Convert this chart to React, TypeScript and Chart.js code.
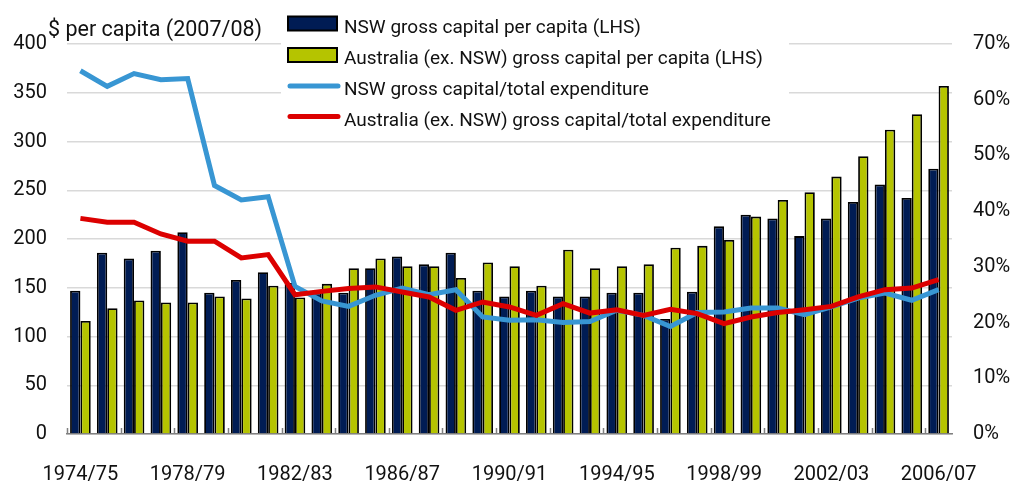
import React, { useEffect, useRef } from 'react';
import { Chart, registerables } from 'chart.js';

Chart.register(...registerables);

const categories = [
  '1974/75', '1975/76', '1976/77', '1977/78', '1978/79', '1979/80', '1980/81', '1981/82',
  '1982/83', '1983/84', '1984/85', '1985/86', '1986/87', '1987/88', '1988/89', '1989/90',
  '1990/91', '1991/92', '1992/93', '1993/94', '1994/95', '1995/96', '1996/97', '1997/98',
  '1998/99', '1999/00', '2000/01', '2001/02', '2002/03', '2003/04', '2004/05', '2005/06',
  '2006/07',
];

const nswPerCapita = [
  147, 186, 180, 188, 207, 145, 158, 166, 155, 145, 145, 170, 182, 174, 186, 147, 141,
  147, 141, 141, 145, 145, 118, 146, 213, 225, 221, 203, 221, 238, 256, 242, 272,
];

const ausPerCapita = [
  116, 129, 137, 135, 135, 141, 139, 152, 140, 154, 170, 180, 172, 172, 160, 176, 172,
  152, 189, 170, 172, 174, 191, 193, 199, 223, 240, 248, 264, 285, 312, 328, 357,
];

const nswShare = [
  65.2, 62.4, 64.7, 63.6, 63.8, 44.6, 42.0, 42.6, 26.5, 23.9, 22.9, 24.9, 26.2, 25.0, 25.9,
  21.0, 20.4, 20.5, 20.0, 20.2, 22.2, 21.3, 19.3, 21.8, 21.9, 22.6, 22.6, 21.4, 22.8, 24.4,
  25.3, 24.0, 25.9,
];

const ausShare = [
  38.7, 38.0, 38.0, 35.9, 34.6, 34.6, 31.6, 32.2, 25.0, 25.6, 26.1, 26.4, 25.5, 24.6, 22.2,
  23.7, 22.8, 21.3, 23.4, 21.7, 22.3, 21.3, 22.4, 21.6, 19.8, 21.0, 21.8, 22.3, 22.9, 24.6,
  25.9, 26.2, 27.7,
];

const leftTicksMax = 400;
const rightTicksMax = 70;
const axisTitle = '$ per capita (2007/08)';

const NAVY = '#001C54';
const LIME = '#B5C400';
const BLUE = '#3896D3';
const RED = '#DC0000';
const FONT = 'Roboto, "Noto Sans", sans-serif';

const overlayPlugin = {
  id: 'overlay',
  afterDatasetsDraw(chart: any) {
    const ctx = chart.ctx;
    const xs = chart.scales.x;
    const area = chart.chartArea;
    const step = xs.getPixelForValue(1) - xs.getPixelForValue(0);
    ctx.save();
    ctx.strokeStyle = '#808080';
    ctx.lineWidth = 1.5;
    ctx.beginPath();
    for (let i = 0; i <= categories.length; i += 2) {
      const px = Math.round(xs.getPixelForValue(i) - step / 2) + 0.5;
      ctx.moveTo(px, area.bottom);
      ctx.lineTo(px, area.bottom - 6);
    }
    ctx.stroke();
    ctx.restore();
  },
  afterDraw(chart: any) {
    const ctx = chart.ctx;
    const ds = chart.data.datasets;
    ctx.save();
    // title
    ctx.fillStyle = '#111';
    ctx.font = `21.5px ${FONT}`;
    ctx.textBaseline = 'alphabetic';
    ctx.textAlign = 'left';
    ctx.fillText(axisTitle, 48, 36);

    // legend
    ctx.fillStyle = '#fff';
    ctx.fillRect(281, 0, 508, 134);
    const order = [2, 3, 1, 0];
    const baselines = [32.5, 64, 95, 125.5];
    order.forEach((di, row) => {
      const d = ds[di];
      const mid = baselines[row] - 9;
      if (d.type === 'bar') {
        ctx.fillStyle = d.backgroundColor;
        ctx.fillRect(288, mid - 7, 49, 14);
        ctx.strokeStyle = '#000';
        ctx.lineWidth = 2;
        ctx.strokeRect(288, mid - 7, 49, 14);
      } else {
        ctx.strokeStyle = d.borderColor;
        ctx.lineWidth = 5;
        ctx.lineCap = 'round';
        ctx.beginPath();
        ctx.moveTo(290, mid);
        ctx.lineTo(338, mid);
        ctx.stroke();
      }
      ctx.fillStyle = '#111';
      ctx.font = `19px ${FONT}`;
      ctx.fillText(d.label, 344, baselines[row]);
    });
    ctx.restore();
  },
};

export default function App() {
  const ref = useRef<HTMLCanvasElement>(null);

  useEffect(() => {
    document.body.style.margin = '0';
    const chart = new Chart(ref.current as HTMLCanvasElement, {
      type: 'bar',
      data: {
        labels: categories,
        datasets: [
          {
            type: 'line',
            label: 'Australia (ex. NSW) gross capital/total expenditure',
            data: ausShare,
            yAxisID: 'y1',
            borderColor: RED,
            backgroundColor: RED,
            borderWidth: 5,
            pointRadius: 0,
            tension: 0,
            order: 0,
          },
          {
            type: 'line',
            label: 'NSW gross capital/total expenditure',
            data: nswShare,
            yAxisID: 'y1',
            borderColor: BLUE,
            backgroundColor: BLUE,
            borderWidth: 5,
            pointRadius: 0,
            tension: 0,
            order: 1,
          },
          {
            type: 'bar',
            label: 'NSW gross capital per capita (LHS)',
            data: nswPerCapita,
            yAxisID: 'y',
            backgroundColor: NAVY,
            borderColor: '#000',
            borderWidth: 1.8,
            barPercentage: 1,
            categoryPercentage: 0.77,
            order: 2,
          },
          {
            type: 'bar',
            label: 'Australia (ex. NSW) gross capital per capita (LHS)',
            data: ausPerCapita,
            yAxisID: 'y',
            backgroundColor: LIME,
            borderColor: '#000',
            borderWidth: 1.8,
            barPercentage: 1,
            categoryPercentage: 0.77,
            order: 2,
          },
        ],
      } as any,
      options: {
        responsive: false,
        animation: false,
        devicePixelRatio: 1,
        layout: { padding: { top: 44, left: 0, right: 0, bottom: 0 } },
        plugins: {
          legend: { display: false },
          tooltip: { enabled: false },
          title: { display: false },
        },
        font: { family: FONT },
        scales: {
          x: {
            grid: { display: false },
            border: { display: true, color: '#808080', width: 1.5 },
            ticks: {
              autoSkip: false,
              maxRotation: 0,
              minRotation: 0,
              padding: 21,
              color: '#111',
              font: { family: FONT, size: 20 },
              callback: (_v: any, i: number) => (i % 4 === 0 ? categories[i] : ''),
            },
            afterFit: (s: any) => {
              s.height = 50;
            },
          },
          y: {
            position: 'left',
            min: 0,
            max: leftTicksMax,
            grid: { color: '#D9D9D9', lineWidth: 1.5, drawTicks: false },
            border: { display: false },
            ticks: {
              stepSize: 50,
              padding: 20,
              color: '#111',
              font: { family: FONT, size: 20 },
            },
            afterFit: (s: any) => {
              s.width = 67;
            },
          },
          y1: {
            position: 'right',
            min: 0,
            max: rightTicksMax,
            grid: { display: false, drawTicks: false },
            border: { display: false },
            ticks: {
              stepSize: 10,
              padding: 21,
              color: '#111',
              font: { family: FONT, size: 20 },
              callback: (v: any) => `${v}%`,
            },
            afterFit: (s: any) => {
              s.width = 66;
            },
          },
        },
      } as any,
      plugins: [overlayPlugin],
    });
    return () => chart.destroy();
  }, []);

  return (
    <div style={{ position: 'absolute', left: 0, top: 0, width: 1018, height: 484 }}>
      <canvas ref={ref} width={1018} height={484} style={{ display: 'block', width: 1018, height: 484 }} />
    </div>
  );
}
